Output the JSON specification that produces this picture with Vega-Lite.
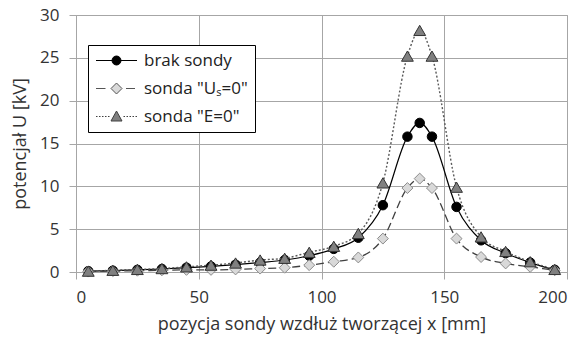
{
  "$schema": "https://vega.github.io/schema/vega-lite/v6.json",
  "width": 491,
  "height": 257,
  "autosize": "none",
  "padding": {"left": 76, "top": 15, "right": 21, "bottom": 71},
  "background": "white",
  "config": {
    "view": {"stroke": "#a6a6a6", "strokeWidth": 1},
    "font": "Open Sans",
    "axis": {
      "grid": true,
      "gridColor": "#a6a6a6",
      "gridWidth": 1,
      "domainColor": "#a6a6a6",
      "tickColor": "#a6a6a6",
      "tickSize": 7,
      "labelFont": "Open Sans",
      "labelFontSize": 17,
      "labelColor": "#333333",
      "titleFont": "Open Sans",
      "titleFontSize": 18,
      "titleFontWeight": "normal",
      "titleColor": "#333333"
    }
  },
  "data": {
    "values": [
      {"x": 5, "series": "brak sondy", "v": 0.1},
      {"x": 15, "series": "brak sondy", "v": 0.15},
      {"x": 25, "series": "brak sondy", "v": 0.25},
      {"x": 35, "series": "brak sondy", "v": 0.35},
      {"x": 45, "series": "brak sondy", "v": 0.5},
      {"x": 55, "series": "brak sondy", "v": 0.65},
      {"x": 65, "series": "brak sondy", "v": 0.85},
      {"x": 75, "series": "brak sondy", "v": 1.1},
      {"x": 85, "series": "brak sondy", "v": 1.4},
      {"x": 95, "series": "brak sondy", "v": 1.9},
      {"x": 105, "series": "brak sondy", "v": 2.7},
      {"x": 115, "series": "brak sondy", "v": 4.0},
      {"x": 125, "series": "brak sondy", "v": 7.8},
      {"x": 135, "series": "brak sondy", "v": 15.8},
      {"x": 140, "series": "brak sondy", "v": 17.4},
      {"x": 145, "series": "brak sondy", "v": 15.8},
      {"x": 155, "series": "brak sondy", "v": 7.6},
      {"x": 165, "series": "brak sondy", "v": 3.7},
      {"x": 175, "series": "brak sondy", "v": 2.2},
      {"x": 185, "series": "brak sondy", "v": 1.1},
      {"x": 195, "series": "brak sondy", "v": 0.25},
      {"x": 5, "series": "sonda \"Uₛ=0\"", "v": 0.05},
      {"x": 15, "series": "sonda \"Uₛ=0\"", "v": 0.1},
      {"x": 25, "series": "sonda \"Uₛ=0\"", "v": 0.15},
      {"x": 35, "series": "sonda \"Uₛ=0\"", "v": 0.2},
      {"x": 45, "series": "sonda \"Uₛ=0\"", "v": 0.25},
      {"x": 55, "series": "sonda \"Uₛ=0\"", "v": 0.25},
      {"x": 65, "series": "sonda \"Uₛ=0\"", "v": 0.3},
      {"x": 75, "series": "sonda \"Uₛ=0\"", "v": 0.4},
      {"x": 85, "series": "sonda \"Uₛ=0\"", "v": 0.5},
      {"x": 95, "series": "sonda \"Uₛ=0\"", "v": 0.8},
      {"x": 105, "series": "sonda \"Uₛ=0\"", "v": 1.2},
      {"x": 115, "series": "sonda \"Uₛ=0\"", "v": 1.7},
      {"x": 125, "series": "sonda \"Uₛ=0\"", "v": 3.9},
      {"x": 135, "series": "sonda \"Uₛ=0\"", "v": 9.8},
      {"x": 140, "series": "sonda \"Uₛ=0\"", "v": 10.9},
      {"x": 145, "series": "sonda \"Uₛ=0\"", "v": 9.8},
      {"x": 155, "series": "sonda \"Uₛ=0\"", "v": 3.9},
      {"x": 165, "series": "sonda \"Uₛ=0\"", "v": 1.75},
      {"x": 175, "series": "sonda \"Uₛ=0\"", "v": 1.0},
      {"x": 185, "series": "sonda \"Uₛ=0\"", "v": 0.6},
      {"x": 195, "series": "sonda \"Uₛ=0\"", "v": 0.2},
      {"x": 5, "series": "sonda \"E=0\"", "v": 0.1},
      {"x": 15, "series": "sonda \"E=0\"", "v": 0.2},
      {"x": 25, "series": "sonda \"E=0\"", "v": 0.3},
      {"x": 35, "series": "sonda \"E=0\"", "v": 0.4},
      {"x": 45, "series": "sonda \"E=0\"", "v": 0.6},
      {"x": 55, "series": "sonda \"E=0\"", "v": 0.8},
      {"x": 65, "series": "sonda \"E=0\"", "v": 1.05},
      {"x": 75, "series": "sonda \"E=0\"", "v": 1.4},
      {"x": 85, "series": "sonda \"E=0\"", "v": 1.6},
      {"x": 95, "series": "sonda \"E=0\"", "v": 2.3},
      {"x": 105, "series": "sonda \"E=0\"", "v": 3.0},
      {"x": 115, "series": "sonda \"E=0\"", "v": 4.5},
      {"x": 125, "series": "sonda \"E=0\"", "v": 10.4},
      {"x": 135, "series": "sonda \"E=0\"", "v": 25.2},
      {"x": 140, "series": "sonda \"E=0\"", "v": 28.2},
      {"x": 145, "series": "sonda \"E=0\"", "v": 25.2},
      {"x": 155, "series": "sonda \"E=0\"", "v": 9.9},
      {"x": 165, "series": "sonda \"E=0\"", "v": 4.1},
      {"x": 175, "series": "sonda \"E=0\"", "v": 2.4},
      {"x": 185, "series": "sonda \"E=0\"", "v": 1.2},
      {"x": 195, "series": "sonda \"E=0\"", "v": 0.3}
    ]
  },
  "encoding": {
    "x": {
      "field": "x",
      "type": "quantitative",
      "scale": {"domain": [0, 200], "nice": false},
      "axis": {"values": [0, 50, 100, 150, 200], "labelPadding": 10, "titlePadding": 10, "title": "pozycja sondy wzdłuż tworzącej x [mm]"}
    },
    "y": {
      "field": "v",
      "type": "quantitative",
      "scale": {"domain": [0, 30], "nice": false},
      "axis": {"values": [0, 5, 10, 15, 20, 25, 30], "labelPadding": 10, "titlePadding": 10, "title": "potencjał U [kV]"}
    }
  },
  "layer": [
    {
      "transform": [{"filter": {"field": "series", "equal": "brak sondy"}}],
      "mark": {"type": "line", "interpolate": "monotone", "strokeWidth": 1.2, "stroke": "#000000"},
      "encoding": {}
    },
    {
      "transform": [{"filter": {"field": "series", "equal": "brak sondy"}}],
      "mark": {"type": "point", "shape": "circle", "filled": true, "opacity": 1, "size": 90, "fill": "#000000", "stroke": "#000000", "strokeWidth": 1},
      "encoding": {}
    },
    {
      "transform": [{"filter": {"field": "series", "equal": "sonda \"Uₛ=0\""}}],
      "mark": {"type": "line", "interpolate": "monotone", "strokeWidth": 1.3, "stroke": "#404040", "strokeDash": [8, 4]},
      "encoding": {}
    },
    {
      "transform": [{"filter": {"field": "series", "equal": "sonda \"Uₛ=0\""}}],
      "mark": {"type": "point", "shape": "diamond", "filled": true, "opacity": 1, "size": 120, "fill": "#d9d9d9", "stroke": "#8c8c8c", "strokeWidth": 1},
      "encoding": {}
    },
    {
      "transform": [{"filter": {"field": "series", "equal": "sonda \"E=0\""}}],
      "mark": {"type": "line", "interpolate": "monotone", "strokeWidth": 1.4, "stroke": "#5a5a5a", "strokeDash": [2, 2]},
      "encoding": {}
    },
    {
      "transform": [{"filter": {"field": "series", "equal": "sonda \"E=0\""}}],
      "mark": {"type": "point", "shape": "triangle-up", "filled": true, "opacity": 1, "size": 140, "fill": "#808080", "stroke": "#333333", "strokeWidth": 1},
      "encoding": {}
    },
    {
      "mark": {"type": "point", "filled": true, "opacity": 0},
      "encoding": {
        "shape": {
          "field": "series",
          "type": "nominal",
          "scale": {"domain": ["brak sondy", "sonda \"Uₛ=0\"", "sonda \"E=0\""], "range": [
            "M-4.1,0H4.1M0.9,0A0.9,0.9,0,1,1,-0.9,0A0.9,0.9,0,1,1,0.9,0Z",
            "M-4.1,0H-2.2M1.9,0H3.7M0,-1.1L1.1,0L0,1.1L-1.1,0Z",
            "M-4.1,0h0.3M-3.5,0h0.3M-2.9,0h0.3M-2.3,0h0.3M-1.7,0h0.3M1.4,0h0.3M2.0,0h0.3M2.6,0h0.3M3.2,0h0.3M3.8,0h0.3M0,-1.1L1.1,0.9L-1.1,0.9Z"
          ]},
          "legend": {
            "title": null,
            "orient": "none",
            "legendX": 12,
            "legendY": 30,
            "padding": 7,
            "strokeColor": "#000000",
            "fillColor": "#ffffff",
            "symbolSize": 100,
            "symbolOpacity": 1,
            "symbolStrokeWidth": 1,
            "symbolOffset": 13,
            "labelOffset": 19,
            "rowPadding": 10,
            "labelFont": "Open Sans",
            "labelFontSize": 17,
            "labelColor": "#222222"
          }
        },
        "fill": {
          "field": "series",
          "type": "nominal",
          "scale": {"domain": ["brak sondy", "sonda \"Uₛ=0\"", "sonda \"E=0\""], "range": ["#000000", "#d9d9d9", "#808080"]}
        },
        "stroke": {
          "field": "series",
          "type": "nominal",
          "scale": {"domain": ["brak sondy", "sonda \"Uₛ=0\"", "sonda \"E=0\""], "range": ["#000000", "#555555", "#404040"]}
        }
      }
    }
  ]
}
